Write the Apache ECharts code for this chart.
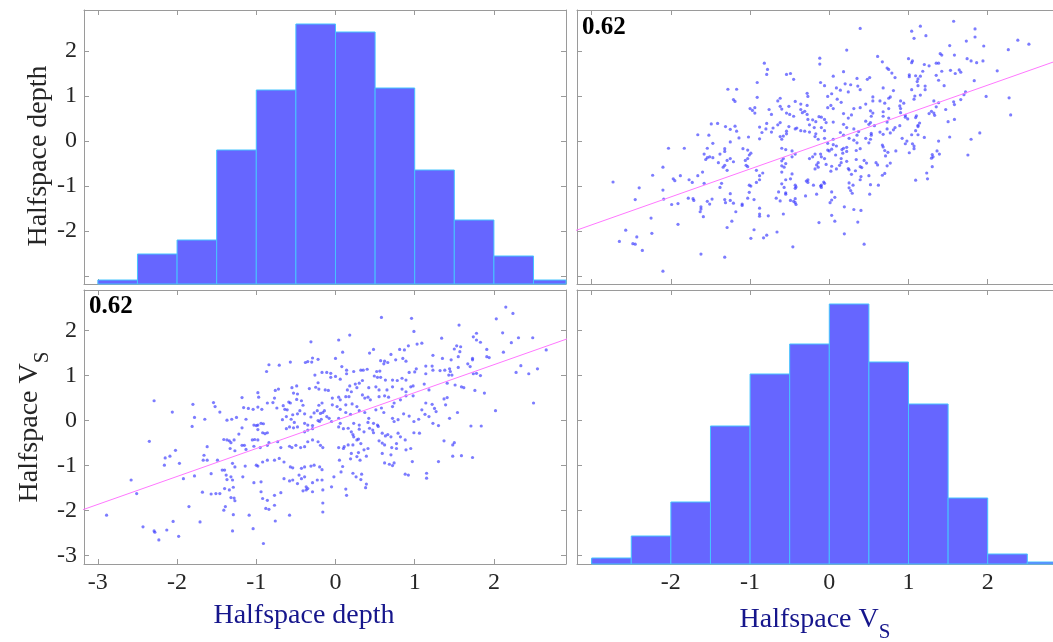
<!DOCTYPE html>
<html><head><meta charset="utf-8">
<script src="https://cdn.jsdelivr.net/npm/echarts@6/dist/echarts.min.js"></script>
<style>html,body{margin:0;padding:0;background:#fff;}#c{width:1053px;height:642px;}</style>
</head><body><div id="c"></div>
<script>
// ---- data ----
// samples: [Halfspace depth, Halfspace Vs]
const samples = [
[-2.29,0.44],[-2.06,0.19],[-1.80,0.36],[-1.78,0.07],[-1.81,-0.13],
[-0.31,1.75],[-0.29,1.39],[-0.38,1.29],[-0.35,1.31],[-0.30,1.30],[-0.22,1.36],[-0.57,1.30],[-0.71,1.23],[-0.84,1.24],[-0.87,1.09],
[-0.26,1.01],[-0.17,1.07],[-0.22,0.84],[-0.25,0.74],[-0.49,0.77],[-0.55,0.73],[-0.72,0.70],[-0.76,0.67],[-0.33,0.71],[-0.21,0.70],
[-0.98,0.62],[-0.97,0.52],[-1.18,0.51],[-0.86,0.39],[-0.79,0.40],[-0.74,0.28],[-0.66,0.33],[-0.64,0.25],[-0.61,0.24],[-0.59,0.41],
[-0.57,0.39],[-0.53,0.61],[-0.48,0.59],[-0.49,0.47],[-0.43,0.44],[-0.41,0.34],[-0.45,0.22],[-0.39,0.15],[-0.48,0.15],[-0.54,0.13],
[-0.56,0.03],[-0.52,-0.04],[-0.62,0.09],[-0.67,0.02],[-0.31,0.08],[-0.27,0.17],[-0.23,0.22],[-0.21,0.34],[-0.17,0.39],[-0.19,0.16],
[-0.16,0.18],[-0.14,0.22],[-0.22,0.00],[-0.18,0.03],[-0.20,-0.02],[-0.39,-0.06],[-0.35,-0.10],[-0.29,-0.11],[-0.94,-0.06],[-0.91,-0.07],
[-1.03,-0.10],[-1.00,-0.11],[-0.98,-0.10],[-1.13,0.03],[-1.25,0.07],[-1.31,0.03],[-1.37,0.01],[-1.46,0.19],[-1.52,0.31],[-1.54,0.40],
[-1.65,0.03],[-1.16,0.29],[-1.10,0.27],[-1.04,0.25],[-0.98,0.30],[-0.93,0.25],[-0.77,0.50],
[0.58,2.29],[0.96,2.27],[0.99,1.98],[0.18,1.90],[0.04,1.79],[1.34,1.83],[1.03,1.70],[1.09,1.72],[0.92,1.66],[0.87,1.57],
[0.81,1.58],[0.09,1.52],[0.43,1.50],[0.48,1.58],[0.70,1.47],[0.76,1.35],[0.00,1.38],[0.57,1.33],[0.62,1.32],[0.66,1.29],
[0.61,1.26],[0.85,1.38],[0.89,1.32],[1.23,1.45],[1.35,1.38],[1.14,1.21],[1.22,1.21],[1.02,1.15],[0.08,1.20],[0.32,1.12],
[0.35,1.12],[0.40,1.14],[0.52,1.09],[0.56,1.10],[0.93,1.07],[1.00,1.08],[1.14,1.04],[1.23,1.12],[1.32,1.11],[1.38,1.12],
[-0.11,1.07],[-0.06,1.05],[-0.06,0.96],[0.00,0.98],[0.06,0.92],[0.14,1.12],[0.14,1.04],[0.23,1.09],[0.49,0.99],[0.53,0.96],
[0.57,0.96],[0.63,0.90],[0.72,0.90],[0.78,0.89],[0.84,0.94],[0.89,0.90],[0.34,0.89],[0.25,0.81],[0.30,0.83],[0.27,0.73],
[0.18,0.77],[0.15,0.68],[0.20,0.64],[0.42,0.73],[0.51,0.75],[0.55,0.68],[0.72,0.75],[0.65,0.68],[0.95,0.75],[0.98,0.77],
[0.84,0.70],[0.89,0.64],[1.12,0.81],[1.18,0.68],[-0.13,0.68],[-0.09,0.67],[-0.04,0.50],[0.04,0.52],[0.06,0.46],[0.13,0.53],
[0.17,0.53],[0.34,0.57],[0.37,0.50],[0.41,0.52],[0.44,0.46],[0.55,0.53],[0.62,0.55],[0.67,0.52],[0.82,0.46],[0.89,0.55],
[0.98,0.55],[1.14,0.39],[1.22,0.36],[1.25,0.27],[1.27,0.20],[1.09,0.24],[1.13,0.14],[1.37,0.48],[1.39,0.35],[-0.04,0.35],
[0.02,0.31],[0.06,0.25],[0.13,0.35],[0.21,0.37],[0.27,0.31],[0.13,0.18],[0.19,0.14],[0.30,0.22],[0.37,0.18],[0.42,0.05],
[0.41,-0.04],[0.51,0.24],[0.58,0.28],[0.61,0.18],[0.72,0.05],[0.79,0.02],[0.74,-0.02],[0.86,0.15],[0.93,0.10],[0.99,-0.02],
[1.05,0.03],[-0.11,0.09],[-0.08,0.05],[-0.05,-0.02],[0.04,0.05],[0.06,-0.06],[0.23,-0.06],[0.30,-0.10],[0.48,-0.06],[0.53,-0.10],
[1.18,0.09],[1.23,-0.06],[0.72,0.31],[0.74,0.39],
[2.15,2.52],[2.24,2.38],[2.03,2.26],[1.56,2.12],[2.11,1.95],[1.78,1.94],[1.74,1.86],[1.78,1.79],[1.83,1.74],[2.31,1.84],
[2.49,1.84],[2.22,1.73],[1.53,1.66],[1.58,1.64],[1.50,1.59],[1.57,1.53],[1.91,1.58],[2.12,1.52],[1.46,1.35],[1.55,1.42],
[1.91,1.42],[1.94,1.40],[2.66,1.57],[1.67,1.26],[1.73,1.38],[1.73,1.35],[1.70,1.20],[1.55,1.18],[1.44,1.15],[1.45,1.09],
[1.43,1.01],[1.47,1.01],[1.74,1.04],[1.78,1.05],[1.83,1.00],[2.34,1.22],[2.55,1.15],[2.28,1.07],[2.44,1.04],[1.41,0.83],
[1.51,0.79],[1.59,0.75],[1.62,0.73],[1.76,0.67],[1.88,0.61],[1.41,0.51],[2.02,0.22],[2.50,0.39],[1.54,0.18],[1.44,0.05],
[1.71,-0.12],[1.84,-0.12],
[-2.35,-0.46],[-2.02,-0.66],[-2.15,-0.83],[-2.09,-0.79],[-2.16,-0.99],[-1.97,-0.95],[-1.67,-0.88],[-2.58,-1.32],[-1.92,-1.29],[-1.78,-1.23],
[-2.51,-1.62],[-1.68,-1.59],[-1.85,-1.91],[-2.89,-2.10],[-1.71,-2.25],[-2.05,-2.24],[-2.43,-2.36],[-2.29,-2.45],[-2.28,-2.48],[-2.13,-2.43],
[-1.98,-2.57],[-2.23,-2.65],
[-1.18,-0.16],[-0.98,-0.20],[-0.92,-0.27],[-0.89,-0.29],[-0.86,-0.27],[-0.62,-0.18],[-0.53,-0.16],[-0.39,-0.25],[-0.35,-0.21],[-0.29,-0.18],
[-1.22,-0.30],[-1.37,-0.43],[-1.34,-0.45],[-1.41,-0.42],[-1.32,-0.49],[-1.28,-0.43],[-1.18,-0.55],[-1.15,-0.55],[-1.05,-0.43],[-1.02,-0.42],
[-0.98,-0.43],[-1.62,-0.58],[-1.33,-0.62],[-1.27,-0.67],[-1.13,-0.64],[-1.03,-0.57],[-0.95,-0.60],[-0.86,-0.55],[-0.84,-0.49],[-0.73,-0.47],
[-0.69,-0.60],[-0.58,-0.57],[-0.55,-0.60],[-0.50,-0.55],[-0.44,-0.60],[-0.39,-0.58],[-0.35,-0.47],[-0.29,-0.43],[-0.22,-0.47],[-0.19,-0.55],
[-0.16,-0.60],[-1.66,-0.77],[-1.62,-0.88],[-1.49,-0.88],[-1.30,-0.95],[-1.27,-1.03],[-1.14,-1.01],[-1.00,-0.99],[-0.98,-1.01],[-0.92,-0.92],
[-0.86,-0.88],[-0.77,-0.88],[-0.71,-0.84],[-0.65,-0.92],[-0.57,-1.03],[-0.54,-1.05],[-0.43,-1.06],[-0.39,-1.03],[-0.31,-1.01],[-0.27,-0.99],
[-0.20,-1.03],[-0.17,-1.09],[-1.57,-1.18],[-1.43,-1.10],[-1.40,-1.10],[-1.38,-1.21],[-1.37,-1.31],[-1.32,-1.25],[-1.30,-1.32],[-1.17,-1.25],
[-1.03,-1.38],[-0.94,-1.36],[-0.65,-1.29],[-0.58,-1.34],[-0.54,-1.32],[-0.46,-1.21],[-0.43,-1.29],[-0.39,-1.25],[-0.48,-1.40],[-0.37,-1.47],
[-0.35,-1.51],[-0.29,-1.38],[-0.23,-1.32],[-0.17,-1.32],[-1.57,-1.63],[-1.51,-1.62],[-1.46,-1.62],[-1.40,-1.51],[-1.34,-1.54],[-1.29,-1.48],
[-1.28,-1.72],[-1.32,-1.71],[-1.27,-1.78],[-0.94,-1.58],[-0.92,-1.73],[-0.77,-1.66],[-0.69,-1.60],[-0.41,-1.56],[-0.37,-1.54],[-0.29,-1.58],
[-0.16,-1.54],[-0.16,-2.03],[-0.86,-1.77],[-0.88,-1.95],[-0.84,-1.97],[-1.39,-1.91],[-1.41,-1.99],[-1.09,-2.10],[-0.77,-1.88],[-0.58,-2.10],
[-1.29,-2.09],[-0.76,-2.23],[-1.04,-2.40],[-1.30,-2.45],[-0.91,-2.73],[-0.58,-0.14],[-0.48,-0.14],
[0.16,-0.17],[0.20,-0.25],[0.23,-0.36],[0.27,-0.43],[0.32,-0.51],[0.36,-0.25],[0.43,-0.17],[0.47,-0.21],[0.54,-0.13],[0.59,-0.28],
[0.63,-0.34],[0.70,-0.36],[0.77,-0.51],[0.62,-0.94],[0.68,-0.97],[0.72,-1.00],[0.36,-0.65],[0.41,-0.62],[0.11,-0.58],[0.16,-0.54],
[0.20,-0.73],[0.27,-0.80],[0.26,-1.25],[0.32,-1.31],[0.38,-1.49],[0.13,-1.52],[0.14,-1.66],[-0.16,-1.83],[0.97,-0.91],[0.88,-1.19],
[1.15,-1.17],[1.15,-1.28],[1.30,-0.91],[0.82,-0.36],[0.88,-0.43],[0.99,-0.27],[1.06,-0.28],[0.95,-0.62],[0.89,-0.65],[0.74,-0.94],
[1.30,-0.11],[1.37,-0.45],[1.48,-0.54],[1.50,-0.49],[1.48,-0.79],[1.73,-0.82],[0.05,-0.88],[0.07,-1.14],[-0.02,-1.25],[-0.05,-1.47],
[0.92,-1.21],[0.33,-1.19],[0.39,-1.41],[0.22,-1.17],[0.31,-0.88],[0.19,-0.85],[0.09,-1.02],[0.70,-0.76],[0.59,-0.73],[0.77,-0.62],
[0.71,-0.60],[0.62,-0.54],[0.59,-0.50],[0.55,-0.45],[0.66,-0.31],[0.79,-0.28],[0.48,-0.27],[0.29,-0.41],[0.22,-0.31],[0.22,-0.54],
[0.10,-0.62],[0.04,-0.60],[0.30,-0.19],[0.10,-0.18],[0.04,-0.14],[0.29,-0.71],[0.39,-0.79],[1.59,-0.78]
];
const depth = samples.map(p => p[0]);
const vs = samples.map(p => p[1]);

const binEdges = [-3,-2.5,-2,-1.5,-1,-0.5,0,0.5,1,1.5,2,2.5,3];
const depthCounts = [2,15,22,67,97,130,126,98,57,32,14,2];
const vsCounts = [3,14,31,69,95,110,130,101,80,33,5,1];
const tickValues = [-3,-2,-1,0,1,2];
const labelsFull = [-3,-2,-1,0,1,2];
const labelsNoMin = [-2,-1,0,1,2];
const corrText = '0.62';
const regX = [-3.4, 3.4];
const regY = [-2.11, 2.11];
const depthRange = [-3.175, 2.91];
const vsRange = [-3.185, 2.90];

// ---- styling / layout ----
const FONT = '"Liberation Serif", "Times New Roman", serif';
const AX = '#9a9a9a';
const grids = [
  {left:84, top:10, width:482, height:274},
  {left:577, top:10, width:482, height:274},
  {left:84, top:290, width:482, height:274},
  {left:577, top:290, width:482, height:274}
].map(g => Object.assign({containLabel:false, outerBoundsMode:'none'}, g));

function axis(gridIndex, range, position, labels, extra) {
  return Object.assign({
    type:'value', gridIndex, position, min:range[0], max:range[1],
    axisLine:{show:true, onZero:false, lineStyle:{color:AX, width:1}},
    axisTick:{show:true, inside:true, length:5, customValues:tickValues, lineStyle:{color:AX, width:1}},
    axisLabel:labels ? {show:true, customValues:labels, margin:7, color:'#262626', fontFamily:FONT, fontSize:24}
                     : {show:false},
    splitLine:{show:false}
  }, extra || {});
}

function richVs(color) {
  return {
    a:{color, fontFamily:FONT, fontSize:28, lineHeight:30},
    s:{color, fontFamily:FONT, fontSize:21, lineHeight:22, padding:[26,0,0,0]}
  };
}

const xAxes = [
  axis(0, depthRange, 'bottom', null),
  axis(0, depthRange, 'top', null),
  axis(1, vsRange, 'bottom', null),
  axis(1, vsRange, 'top', null),
  axis(2, depthRange, 'bottom', labelsFull, {
    name:'Halfspace depth', nameLocation:'middle', nameGap:38,
    nameTextStyle:{color:'#16168c', fontFamily:FONT, fontSize:28, padding:[0,42,0,0]}
  }),
  axis(2, depthRange, 'top', null),
  axis(3, vsRange, 'bottom', labelsNoMin, {
    name:'{a|Halfspace V}{s|S}', nameLocation:'middle', nameGap:30,
    nameTextStyle:{color:'#16168c', fontFamily:FONT, fontSize:28, padding:[0,6,0,0], rich:richVs('#16168c')}
  }),
  axis(3, vsRange, 'top', null)
];
const yAxes = [
  axis(0, depthRange, 'left', labelsNoMin, {
    name:'Halfspace depth', nameLocation:'middle', nameGap:31,
    nameTextStyle:{color:'#262626', fontFamily:FONT, fontSize:28, padding:[0,18,0,0]}
  }),
  axis(0, depthRange, 'right', null),
  axis(1, depthRange, 'left', null),
  axis(1, depthRange, 'right', null),
  axis(2, vsRange, 'left', labelsFull, {
    name:'{a|Halfspace V}{s|S}', nameLocation:'middle', nameGap:31,
    nameTextStyle:{color:'#262626', fontFamily:FONT, fontSize:28, rich:richVs('#262626')}
  }),
  axis(2, vsRange, 'right', null),
  axis(3, vsRange, 'left', null),
  axis(3, vsRange, 'right', null),
  {type:'value', gridIndex:0, min:0, max:137, show:false},
  {type:'value', gridIndex:3, min:0, max:137, show:false}
];

function histSeries(xIdx, yIdx, counts) {
  return {
    type:'custom', xAxisIndex:xIdx, yAxisIndex:yIdx, silent:true,
    data: counts.map((c, i) => [binEdges[i], binEdges[i + 1], c]),
    encode:{x:[0,1], y:2},
    renderItem(params, api) {
      const p0 = api.coord([api.value(0), api.value(2)]);
      const p1 = api.coord([api.value(1), 0]);
      const cs = params.coordSys;
      const shape = echarts.graphic.clipRectByRect(
        {x:p0[0], y:p0[1], width:p1[0] - p0[0], height:p1[1] - p0[1]},
        {x:cs.x, y:cs.y, width:cs.width, height:cs.height});
      return shape && {type:'rect', shape, style:{fill:'#6666ff', stroke:'#45c4ff', lineWidth:1}};
    }
  };
}

const scatterStyle = {symbol:'circle', symbolSize:3.2, itemStyle:{color:'rgba(50,50,255,0.8)'}, silent:true};
const regLine = regX.map((x, i) => [x, regY[i]]);

const option = {
  animation:false,
  backgroundColor:'#ffffff',
  grid:grids,
  xAxis:xAxes,
  yAxis:yAxes,
  graphic:[
    {type:'text', left:582, top:15, z:100, style:{text:corrText, font:'bold 25px "Liberation Serif"', fill:'#000'}},
    {type:'text', left:89, top:294, z:100, style:{text:corrText, font:'bold 25px "Liberation Serif"', fill:'#000'}}
  ],
  series:[
    histSeries(0, 8, depthCounts),
    histSeries(6, 9, vsCounts),
    Object.assign({type:'scatter', xAxisIndex:2, yAxisIndex:2, data: vs.map((v, i) => [v, depth[i]])}, scatterStyle),
    Object.assign({type:'scatter', xAxisIndex:4, yAxisIndex:4, data: depth.map((d, i) => [d, vs[i]])}, scatterStyle),
    {type:'line', xAxisIndex:2, yAxisIndex:2, data:regLine, symbol:'none', clip:true, silent:true,
     lineStyle:{color:'#ff77ff', width:1}, z:5},
    {type:'line', xAxisIndex:4, yAxisIndex:4, data:regLine, symbol:'none', clip:true, silent:true,
     lineStyle:{color:'#ff77ff', width:1}, z:5}
  ]
};
const chart = echarts.init(document.getElementById('c'), null, {renderer:'canvas'});
chart.setOption(option);
</script></body></html>
